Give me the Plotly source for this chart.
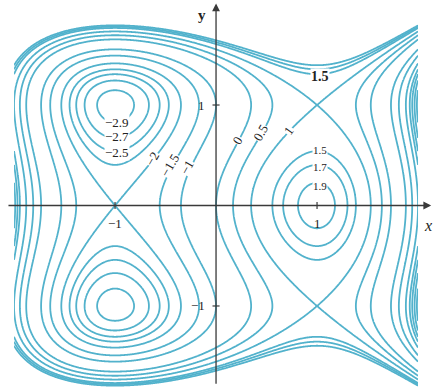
import numpy as np
import plotly.graph_objects as go

# Contour levels drawn on the map
levels = [-2.9, -2.7, -2.5, -2.3, -2, -1.5, -1, 0, 0.5, 1, 1.5, 1.7, 1.9]

# Level labels: text, x, y, rotation
label_text = ["−2.9", "−2.7", "−2.5", "−2", "−1.5", "−1", "0", "0.5", "1", "1.5", "1.5", "1.7", "1.9"]
label_x = [-0.98, -0.98, -0.98, -0.63, -0.46, -0.29, 0.21, 0.44, 0.72, 1.03, 1.03, 1.03, 1.03]
label_y = [0.83, 0.69, 0.53, 0.47, 0.40, 0.38, 0.65, 0.73, 0.75, 1.28, 0.55, 0.38, 0.19]
label_angle = [0, 0, 0, -60, -60, -60, -60, -60, -55, 0, 0, 0, 0]

# Axis tick values
tick_vals = [-1, 1]
tick_text = ["−1", "1"]

LINE = "rgb(82,178,204)"
AXIS = "#3a3a3a"
FONT = "Liberation Serif"


def f(x, y):
    return 3 * x - x ** 3 - 2 * y ** 2 + y ** 4


xs = np.linspace(-2, 2, 501)
ys = np.linspace(-2, 2, 501)
X, Y = np.meshgrid(xs, ys)
Z = f(X, Y)

fig = go.Figure()
for lv in levels:
    fig.add_trace(go.Contour(
        x=xs, y=ys, z=Z,
        autocontour=False,
        contours=dict(start=lv, end=lv, size=1, coloring="none"),
        line=dict(color=LINE, width=1.8, smoothing=1),
        showscale=False, hoverinfo="skip",
    ))

# axes with arrowheads
fig.add_annotation(x=2.13, y=0, ax=-2.07, ay=0, xref="x", yref="y", axref="x", ayref="y",
                   showarrow=True, arrowhead=2, arrowsize=1.2, arrowwidth=1.3,
                   arrowcolor=AXIS, text="")
fig.add_annotation(x=0, y=2.01, ax=0, ay=-1.79, xref="x", yref="y", axref="x", ayref="y",
                   showarrow=True, arrowhead=2, arrowsize=1.2, arrowwidth=1.3,
                   arrowcolor=AXIS, text="")

# tick marks
for v in tick_vals:
    fig.add_shape(type="line", x0=v, x1=v, y0=-0.035, y1=0.035, line=dict(color=AXIS, width=1.2))
    fig.add_shape(type="line", x0=-0.035, x1=0.035, y0=v, y1=v, line=dict(color=AXIS, width=1.2))

for v, t in zip(tick_vals, tick_text):
    fig.add_annotation(x=v, y=-0.18, text=t, showarrow=False,
                       font=dict(family=FONT, size=13, color="#222"))
    fig.add_annotation(x=-0.09, y=v, text=t, showarrow=False, xanchor="right",
                       font=dict(family=FONT, size=13, color="#222"))

fig.add_annotation(x=2.1, y=-0.2, text="<i>x</i>", showarrow=False,
                   font=dict(family=FONT, size=16, color="#222"))
fig.add_annotation(x=-0.14, y=1.9, text="<b>y</b>", showarrow=False,
                   font=dict(family=FONT, size=15, color="#222"))

# level labels
for t, lx, ly, a in zip(label_text, label_x, label_y, label_angle):
    size = 11 if t in ("1.7", "1.9") or (t == "1.5" and ly < 1) else 13
    if t == "1.5" and ly > 1:
        t = "<b>1.5</b>"
        size = 14
    fig.add_annotation(x=lx, y=ly, text=t, showarrow=False, textangle=a,
                       bgcolor="white", borderpad=0,
                       font=dict(family=FONT, size=size, color="#222"))

fig.update_xaxes(range=[-2.139, 2.158], visible=False, showgrid=False, zeroline=False)
fig.update_yaxes(range=[-1.856, 2.045], visible=False, showgrid=False, zeroline=False)
fig.update_layout(width=434, height=392, margin=dict(l=0, r=0, t=0, b=0),
                  plot_bgcolor="white", paper_bgcolor="white", showlegend=False)

fig.write_html("out.html")
